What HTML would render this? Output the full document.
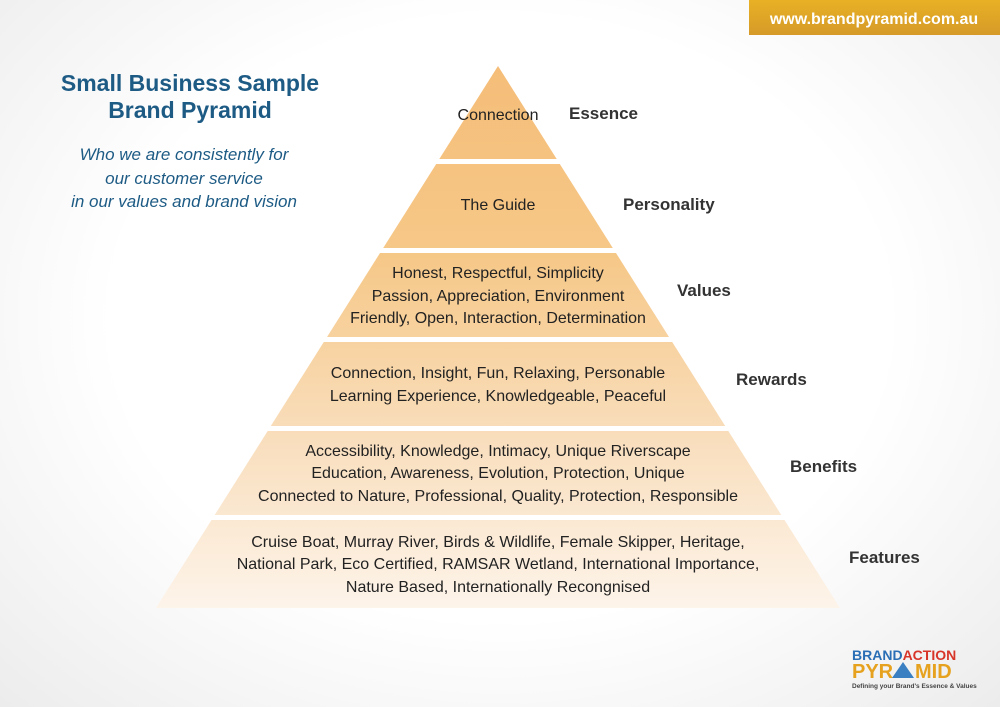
<!DOCTYPE html>
<html><head><meta charset="utf-8"><style>
html,body{margin:0;padding:0}
body{width:1000px;height:707px;overflow:hidden;background:radial-gradient(ellipse at 50% 45%,#ffffff 55%,#ececec 100%);position:relative;font-family:"Liberation Sans",sans-serif}
svg{position:absolute;left:0;top:0}
</style></head><body>
<svg width="1000" height="707" viewBox="0 0 1000 707">
<defs>
<linearGradient id="g" gradientUnits="userSpaceOnUse" x1="0" y1="66" x2="0" y2="610">
<stop offset="0" stop-color="#f5bd78"/><stop offset="0.35" stop-color="#f6c888"/><stop offset="0.7" stop-color="#f9dfbf"/><stop offset="1" stop-color="#fdf4ea"/>
</linearGradient>
<linearGradient id="b" x1="0" y1="0" x2="0" y2="1"><stop offset="0" stop-color="#e8b125"/><stop offset="1" stop-color="#d59a28"/></linearGradient>
</defs>
<rect x="749" y="0" width="251" height="35" fill="url(#b)"/>
<text x="874" y="24" text-anchor="middle" font-size="16" font-weight="bold" fill="#fff">www.brandpyramid.com.au</text>
<g fill="url(#g)">
<polygon points="498,66 556.7,159 439.3,159"/>
<polygon points="436.2,164 559.8,164 612.8,248 383.2,248"/>
<polygon points="380,253 616,253 669,337 327,337"/>
<polygon points="323.8,342 672.2,342 725.2,426 270.8,426"/>
<polygon points="267.7,431 728.3,431 781.3,515 214.7,515"/>
<polygon points="211.5,520 784.5,520 840,608 156,608"/>
</g>
<g font-size="16" fill="#222" text-anchor="middle">
<text x="498" y="120">Connection</text>
<text x="498" y="210">The Guide</text>
<text x="498" y="278">Honest, Respectful, Simplicity</text>
<text x="498" y="301">Passion, Appreciation, Environment</text>
<text x="498" y="323">Friendly, Open, Interaction, Determination</text>
<text x="498" y="378">Connection, Insight, Fun, Relaxing, Personable</text>
<text x="498" y="401">Learning Experience, Knowledgeable, Peaceful</text>
<text x="498" y="456">Accessibility, Knowledge, Intimacy, Unique Riverscape</text>
<text x="498" y="478">Education, Awareness, Evolution, Protection, Unique</text>
<text x="498" y="501">Connected to Nature, Professional, Quality, Protection, Responsible</text>
<text x="498" y="547">Cruise Boat, Murray River, Birds &amp; Wildlife, Female Skipper, Heritage,</text>
<text x="498" y="569">National Park, Eco Certified, RAMSAR Wetland, International Importance,</text>
<text x="498" y="592">Nature Based, Internationally Recongnised</text>
</g>
<g font-size="17" font-weight="bold" fill="#333">
<text x="569" y="119">Essence</text>
<text x="623" y="210">Personality</text>
<text x="677" y="296">Values</text>
<text x="736" y="385">Rewards</text>
<text x="790" y="472">Benefits</text>
<text x="849" y="563">Features</text>
</g>
<g fill="#1d5b85" text-anchor="middle">
<text x="190" y="91" font-size="23" font-weight="bold">Small Business Sample</text>
<text x="190" y="118" font-size="23" font-weight="bold">Brand Pyramid</text>
<g font-size="17" font-style="italic">
<text x="184" y="160">Who we are consistently for</text>
<text x="184" y="184">our customer service</text>
<text x="184" y="207">in our values and brand vision</text>
</g>
</g>
<g font-weight="bold" font-family="Liberation Sans,sans-serif">
<text x="852" y="660" font-size="14" fill="#2a6fb5">BRAND<tspan fill="#d8352a">ACTION</tspan></text>
<text x="852" y="678" font-size="20" fill="#e6a21e">PYR</text>
<polygon points="903,662 914,678 892,678" fill="#3a7fc2"/>
<text x="915" y="678" font-size="20" fill="#e6a21e">MID</text>
<text x="852" y="688" font-size="6.5" fill="#444">Defining your Brand's Essence &amp; Values</text>
</g>
</svg>
</body></html>
